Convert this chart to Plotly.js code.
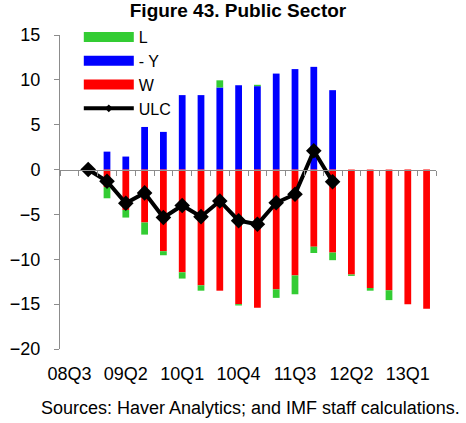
<!DOCTYPE html>
<html>
<head>
<meta charset="utf-8">
<script src="https://cdn.plot.ly/plotly-3.0.1.min.js"></script>
<style>
  html, body { margin: 0; padding: 0; background: #fff; }
  #chart-container { width: 466px; height: 423px; }
</style>
</head>
<body>
<div id="chart-container"></div>
<script>
// quarters on the category axis
const quarters = ['08Q3', '08Q4', '09Q1', '09Q2', '09Q3', '09Q4', '10Q1', '10Q2', '10Q3', '10Q4',
                  '11Q1', '11Q2', '11Q3', '11Q4', '12Q1', '12Q2', '12Q3', '12Q4', '13Q1', '13Q2']
const tickQuarters = ['08Q3', '09Q2', '10Q1', '10Q4', '11Q3', '12Q2', '13Q1']

// contributions, percent
const minusY = [null, null, 2.0, 1.45, 4.75, 4.2, 8.3, 8.3, 9.15, 9.4,
                9.3, 10.7, 11.2, 11.45, 8.85, null, null, null, null, null]
const W = [null, null, -1.95, -4.5, -5.9, -9.1, -11.45, -12.9, -13.5, -15.0,
           -15.4, -13.35, -11.8, -8.6, -9.25, -11.7, -13.2, -13.45, -15.0, -15.5]
const L = [null, null, -1.25, -0.85, -1.35, -0.45, -0.7, -0.6, 0.8, -0.15,
           0.15, -0.95, -2.1, -0.7, -0.85, -0.15, -0.3, -1.1, null, null]
const ULC = [null, 0, -1.3, -3.75, -2.6, -5.35, -4.0, -5.25, -3.5, -5.7,
             -6.1, -3.7, -2.75, 2.1, -1.35, null, null, null, null, null]

const green = '#33CC33'
const blue = '#0000FF'
const red = '#FF0000'
const grey = '#8C8C8C'
const font = 'Arial, "Liberation Sans", sans-serif'

function bar(y, color, name) {
    return {
        x: quarters,
        y: y,
        type: 'bar',
        name: name,
        showlegend: false,
        marker: {color: color, line: {width: 0}},
        hoverinfo: 'x+y+name'
    }
}

// legend entries drawn as wide swatches like the original
function swatch(color, name, width) {
    return {
        x: [null],
        y: [null],
        type: 'scatter',
        mode: 'lines',
        name: name,
        line: {color: color, width: width},
        hoverinfo: 'skip'
    }
}

let ulcKey = swatch('#000', 'ULC', 4)
ulcKey.mode = 'lines+markers'
ulcKey.marker = {symbol: 'diamond', size: 6, color: '#000'}

let data = [
    bar(minusY, blue, '- Y'),
    bar(W, red, 'W'),
    bar(L, green, 'L'),
    {
        x: quarters,
        y: ULC,
        xaxis: 'x2',
        type: 'scatter',
        mode: 'lines+markers',
        name: 'ULC',
        showlegend: false,
        line: {color: '#000', width: 4},
        marker: {symbol: 'diamond', size: 12, color: '#000'}
    },
    swatch(green, 'L', 12),
    swatch(blue, '- Y', 12),
    swatch(red, 'W', 12),
    ulcKey
]

let layout = {
    width: 466,
    height: 423,
    margin: {l: 60, r: 30, t: 35, b: 74},
    paper_bgcolor: '#fff',
    plot_bgcolor: 'rgba(0,0,0,0)',
    font: {family: font, size: 18, color: '#000'},
    barmode: 'relative',
    bargap: 0.64,
    title: {
        text: '<b>Figure 43. Public Sector</b>',
        font: {family: font, size: 19, color: '#000'},
        xref: 'container',
        x: 238 / 466,
        xanchor: 'center',
        yref: 'container',
        y: 1 - 10 / 423,
        yanchor: 'middle'
    },
    xaxis: {
        type: 'category',
        categoryorder: 'array',
        categoryarray: quarters,
        range: [-0.5, 19.5],
        showline: false,
        showgrid: false,
        zeroline: false,
        ticks: '',
        tickmode: 'array',
        tickvals: tickQuarters,
        ticktext: tickQuarters,
        tickangle: 0,
        ticklabelstandoff: 12,
        tickfont: {family: font, size: 18}
    },
    xaxis2: {
        type: 'category',
        categoryorder: 'array',
        categoryarray: quarters,
        range: [-0.5, 19.5],
        overlaying: 'x',
        anchor: 'free',
        position: 20 / 35,
        showline: true,
        linecolor: grey,
        linewidth: 1,
        showgrid: false,
        zeroline: false,
        ticks: 'outside',
        tickson: 'boundaries',
        ticklen: 5,
        tickcolor: grey,
        showticklabels: false
    },
    yaxis: {
        range: [-20, 15],
        dtick: 5,
        showline: true,
        linecolor: grey,
        linewidth: 1,
        showgrid: false,
        zeroline: false,
        ticks: 'outside',
        ticklen: 5,
        tickcolor: grey,
        ticklabelstandoff: 10,
        tickfont: {family: font, size: 18}
    },
    legend: {
        x: 0.05,
        y: 1 + 15 / 314,
        xanchor: 'left',
        yanchor: 'top',
        bgcolor: 'rgba(0,0,0,0)',
        itemwidth: 50,
        tracegroupgap: 0,
        font: {family: font, size: 16}
    },
    annotations: [{
        xref: 'paper',
        yref: 'paper',
        x: (250 - 60) / 376,
        xanchor: 'center',
        y: (349 - 408) / 314,
        yanchor: 'middle',
        text: 'Sources: Haver Analytics; and IMF staff calculations.',
        showarrow: false,
        font: {family: font, size: 18}
    }]
}

Plotly.newPlot('chart-container', data, layout, {displayModeBar: false, staticPlot: true})
</script>
</body>
</html>
